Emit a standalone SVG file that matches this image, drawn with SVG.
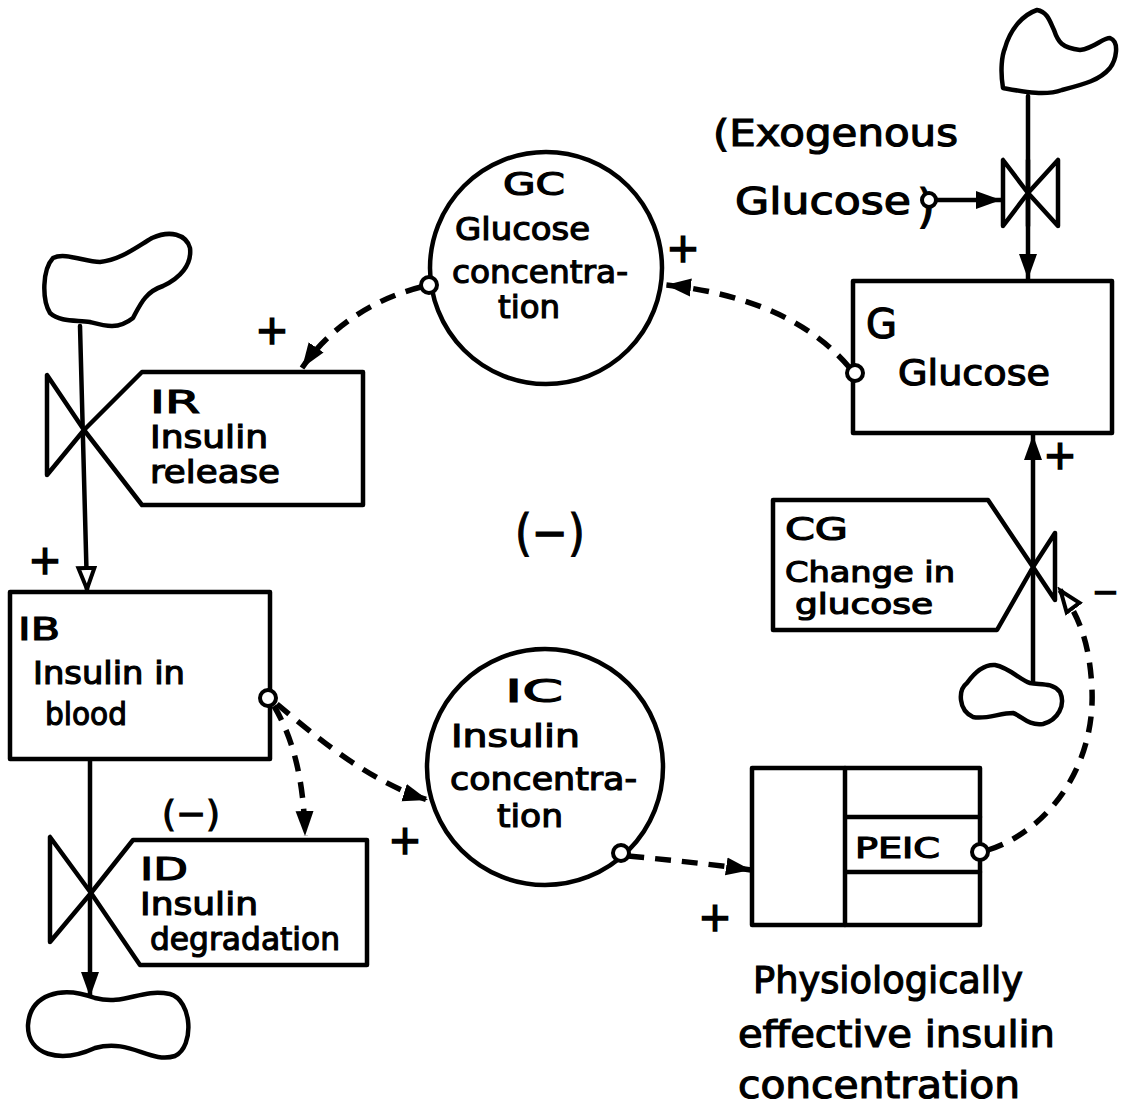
<svg xmlns="http://www.w3.org/2000/svg" width="1121" height="1108" viewBox="0 0 1121 1108">
<style>
.ln{fill:none;stroke:#000;stroke-width:4.5;stroke-linejoin:round;stroke-linecap:round}
.sh{fill:#fff;stroke:#000;stroke-width:4.5;stroke-linejoin:round}
.dash{fill:none;stroke:#000;stroke-width:5.5;stroke-dasharray:16 11;stroke-linecap:butt}
.pin{fill:#fff;stroke:#000;stroke-width:4}
.t{font-family:"DejaVu Sans","Liberation Sans",sans-serif;font-size:32px;fill:#000;stroke:#000;stroke-width:1.2}
.s{font-family:"DejaVu Sans","Liberation Sans",sans-serif;font-size:40px;fill:#000;stroke:#000;stroke-width:1.5;text-anchor:middle}
</style>
<defs>
<marker id="af" markerUnits="userSpaceOnUse" markerWidth="28" markerHeight="22" refX="25" refY="11" orient="auto"><path d="M0,2 L25,11 L0,20 Z" fill="#000"/></marker>
<marker id="ah" markerUnits="userSpaceOnUse" markerWidth="28" markerHeight="22" refX="24" refY="11" orient="auto"><path d="M2,3 L23,11 L2,19 Z" fill="#fff" stroke="#000" stroke-width="4"/></marker>
</defs>
<rect width="1121" height="1108" fill="#fff"/>

<g id="connectors">
<path class="ln" d="M1028,96 L1028,279" marker-end="url(#af)"/>
<path class="ln" d="M937,200 L1001,200" marker-end="url(#af)"/>
<path class="ln" d="M80,326 L87,590" marker-end="url(#ah)"/>
<path class="ln" d="M90,760 L90,997" marker-end="url(#af)"/>
<path class="ln" d="M1033,690 L1033,435" marker-end="url(#af)"/>
<path class="dash" d="M849,367 C805,315 735,292 666,285" marker-end="url(#af)"/>
<path class="dash" d="M421,287 C370,300 328,330 302,368" marker-end="url(#af)"/>
<path class="dash" d="M274,706 C293,738 304,780 305,836" marker-end="url(#af)"/>
<path class="dash" d="M277,704 C320,740 370,782 428,800" marker-end="url(#af)"/>
<path class="dash" d="M628,856 C670,860 710,864 751,870" marker-end="url(#af)"/>
<path class="dash" d="M988,850 C1050,830 1095,765 1092,690 C1090,645 1080,617 1060,590" marker-end="url(#ah)"/>
</g>

<g id="source-top-right">
<path class="sh" d="M1003,88 C1000,70 1002,55 1005,48 C1010,30 1022,15 1037,10 C1048,12 1050,22 1054,30 C1058,42 1062,48 1080,50 C1095,48 1102,38 1110,38 C1120,42 1116,60 1110,68 C1100,80 1085,84 1062,90 C1045,96 1025,92 1003,88 Z"/>
</g>
<g id="valve-exogenous">
<path class="sh" d="M1028,193 L1003,160 L1003,226 Z"/>
<path class="sh" d="M1028,193 L1058,160 L1058,226 Z"/>
<path class="ln" d="M1028,160 L1028,226"/>
</g>
<g id="exogenous-glucose">
<text class="t" x="713" y="146" textLength="245" lengthAdjust="spacingAndGlyphs" style="font-size:38px">(Exogenous</text>
<text class="t" x="735" y="214" textLength="176" lengthAdjust="spacingAndGlyphs" style="font-size:38px">Glucose</text>
<text class="t" x="917" y="222" style="font-size:46px">)</text>
<circle class="pin" cx="929" cy="200" r="7"/>
</g>

<g id="G">
<rect class="sh" x="853" y="281" width="259" height="152"/>
<text class="t" x="866" y="338" style="font-size:40px">G</text>
<text class="t" x="898" y="385" textLength="152" lengthAdjust="spacingAndGlyphs" style="font-size:36px">Glucose</text>
<circle class="pin" cx="855" cy="373" r="8"/>
</g>

<g id="GC">
<circle class="sh" cx="546" cy="268" r="116"/>
<text class="t" x="503" y="195" textLength="62" lengthAdjust="spacingAndGlyphs">GC</text>
<text class="t" x="455" y="240" textLength="135" lengthAdjust="spacingAndGlyphs">Glucose</text>
<text class="t" x="452" y="283" textLength="176" lengthAdjust="spacingAndGlyphs">concentra-</text>
<text class="t" x="498" y="318" textLength="62" lengthAdjust="spacingAndGlyphs">tion</text>
<circle class="pin" cx="429" cy="285" r="8"/>
</g>

<g id="source-IR">
<path class="sh" d="M53,258 C42,270 42,300 50,313 C60,322 75,320 90,322 C105,326 118,330 133,318 C140,305 145,292 163,286 C180,278 192,265 190,248 C186,234 170,230 152,238 C135,248 120,260 100,262 C85,262 65,252 53,258 Z"/>
</g>
<g id="IR">
<path class="sh" d="M84,430 L47,375 L47,475 Z"/>
<path class="sh" d="M84,430 L142,372 L363,372 L363,505 L142,505 Z"/>
<text class="t" x="150" y="413" textLength="50" lengthAdjust="spacingAndGlyphs">IR</text>
<text class="t" x="150" y="448" textLength="118" lengthAdjust="spacingAndGlyphs">Insulin</text>
<text class="t" x="150" y="483" textLength="130" lengthAdjust="spacingAndGlyphs">release</text>
</g>

<g id="IB">
<rect class="sh" x="10" y="592" width="260" height="167"/>
<text class="t" x="18" y="640" textLength="42" lengthAdjust="spacingAndGlyphs">IB</text>
<text class="t" x="33" y="684" textLength="152" lengthAdjust="spacingAndGlyphs">Insulin in</text>
<text class="t" x="45" y="725" textLength="82" lengthAdjust="spacingAndGlyphs">blood</text>
<circle class="pin" cx="268" cy="698" r="8"/>
</g>

<g id="ID">
<path class="sh" d="M91,893 L50,837 L50,942 Z"/>
<path class="sh" d="M91,893 L133,840 L367,840 L367,965 L140,965 Z"/>
<text class="t" x="140" y="880" textLength="48" lengthAdjust="spacingAndGlyphs">ID</text>
<text class="t" x="140" y="915" textLength="118" lengthAdjust="spacingAndGlyphs">Insulin</text>
<text class="t" x="150" y="950" textLength="190" lengthAdjust="spacingAndGlyphs">degradation</text>
<text class="t" x="162" y="826" textLength="58" lengthAdjust="spacingAndGlyphs" style="font-size:36px">(−)</text>
</g>
<g id="sink-ID">
<path class="sh" d="M95,998 C60,985 30,995 28,1025 C27,1055 60,1064 95,1048 C130,1038 150,1064 175,1056 C195,1046 192,1000 170,994 C140,988 125,1006 95,998 Z"/>
</g>

<g id="IC">
<circle class="sh" cx="545" cy="767" r="118"/>
<text class="t" x="505" y="702" textLength="58" lengthAdjust="spacingAndGlyphs">IC</text>
<text class="t" x="451" y="747" textLength="129" lengthAdjust="spacingAndGlyphs">Insulin</text>
<text class="t" x="450" y="790" textLength="187" lengthAdjust="spacingAndGlyphs">concentra-</text>
<text class="t" x="497" y="827" textLength="66" lengthAdjust="spacingAndGlyphs">tion</text>
<circle class="pin" cx="621" cy="853" r="8"/>
</g>

<g id="PEIC">
<rect class="sh" x="752" y="768" width="228" height="157"/>
<path class="ln" d="M845,768 L845,925 M845,817 L980,817 M845,872 L980,872"/>
<text class="t" x="855" y="858" textLength="85" lengthAdjust="spacingAndGlyphs" style="font-size:28px">PEIC</text>
<circle class="pin" cx="980" cy="852" r="8"/>
<text class="t" x="753" y="993" textLength="270" lengthAdjust="spacingAndGlyphs" style="font-size:38px">Physiologically</text>
<text class="t" x="738" y="1047" textLength="317" lengthAdjust="spacingAndGlyphs" style="font-size:38px">effective insulin</text>
<text class="t" x="738" y="1098" textLength="282" lengthAdjust="spacingAndGlyphs" style="font-size:38px">concentration</text>
</g>

<g id="CG">
<path class="sh" d="M1033,567 L1055,533 L1055,600 Z"/>
<path class="sh" d="M1033,567 L988,500 L773,500 L773,630 L997,630 Z"/>
<text class="t" x="785" y="540" textLength="63" lengthAdjust="spacingAndGlyphs">CG</text>
<text class="t" x="785" y="582" textLength="170" lengthAdjust="spacingAndGlyphs" style="font-size:29px">Change in</text>
<text class="t" x="795" y="614" textLength="138" lengthAdjust="spacingAndGlyphs" style="font-size:29px">glucose</text>
</g>
<g id="source-CG">
<path class="sh" d="M967,683 C958,690 958,710 973,717 C985,720 1000,713 1013,713 C1022,716 1028,726 1043,724 C1058,720 1066,705 1060,692 C1052,682 1040,685 1030,683 C1020,680 1010,668 995,665 C982,664 972,676 967,683 Z"/>
</g>

<g id="polarities">
<text class="s" x="272" y="344">+</text>
<text class="s" x="683" y="262">+</text>
<text class="s" x="45" y="574">+</text>
<text class="s" x="1060" y="469">+</text>
<text class="s" x="405" y="854">+</text>
<text class="s" x="715" y="931">+</text>
<text class="s" x="1119" y="603" style="text-anchor:end;font-size:32px">−</text>
<text class="t" x="515" y="550" textLength="70" lengthAdjust="spacingAndGlyphs" style="font-size:50px">(−)</text>
</g>
</svg>
